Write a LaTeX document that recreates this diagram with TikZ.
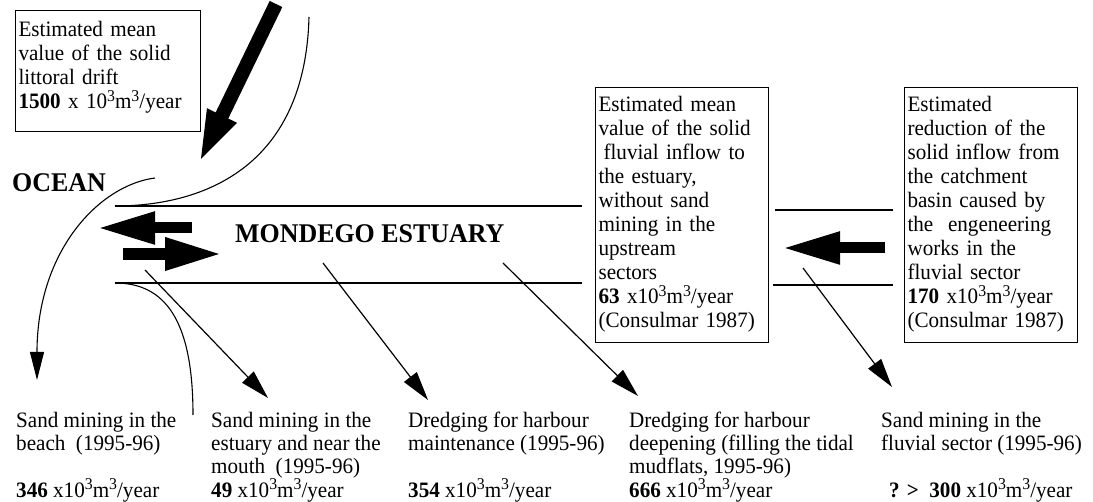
\documentclass[tikz,border=0pt]{standalone}
\usepackage{fontspec}
\setmainfont{Liberation Serif}[FakeStretch=0.96]
\usetikzlibrary{arrows.meta}
\newcommand\hsup[1]{\raisebox{7.8pt}{\fontsize{16.5}{16.5}\selectfont #1}}
\newcommand\bstrut{\rule[-13pt]{0pt}{13pt}}
\begin{document}
\begin{tikzpicture}[x=1pt,y=-1pt,
  infobox/.style={draw, line width=1.1pt, anchor=north west, align=left,
    inner xsep=3pt, inner ysep=0pt, font=\fontsize{22}{24}\selectfont},
  lbl/.style={anchor=north west, align=left, inner sep=0pt,
    font=\fontsize{22}{23}\selectfont},
  bigtitle/.style={anchor=base west, inner sep=0pt,
    font=\fontsize{27}{30}\selectfont\bfseries},
  bank/.style={line width=1.3pt},
  coast/.style={line width=1.1pt},
  flow/.style={line width=1.2pt, -{Triangle[length=29pt,width=16pt]}},
  fat/.style={line width=#1, -{Triangle[length=58pt,width=30pt]}},
]
\useasboundingbox (0,0) rectangle (1093,502);

% boxes
\node[infobox, text width=179pt, minimum height=121pt] (drift) at (15,10)
  {\strut Estimated mean\\value of the solid\\littoral drift\\
   \textbf{1500} x 10\hsup{3}m\hsup{3}/year\bstrut};
\node[infobox, text width=167pt, minimum height=255pt] (fluvial) at (595,87)
  {\strut Estimated mean\\value of the solid\\\hspace*{5pt}fluvial inflow to\\the estuary,\\
   without sand\\mining in the\\upstream\\sectors\\
   \textbf{63} x10\hsup{3}m\hsup{3}/year\\(Consulmar 1987)\strut};
\node[infobox, text width=167pt, minimum height=255pt] (reduction) at (904,87)
  {\strut Estimated\\reduction of the\\solid inflow from\\the catchment\\
   basin caused by\\the\ \ engeneering\\works in the\\fluvial sector\\
   \textbf{170} x10\hsup{3}m\hsup{3}/year\\(Consulmar 1987)\strut};

% titles
\node[bigtitle] (ocean) at (12,192) {OCEAN};
\node[bigtitle] (estuary) at (235,243) {MONDEGO ESTUARY};

% banks of the estuary
\coordinate (tl) at (115,206);
\coordinate (bl) at (115,283);
\draw[bank] (tl) -- (582,206);
\draw[bank] (bl) -- (582,283);
\draw[bank] (fluvial.east |- 0,210) ++(6,0) -- (893,210);
\draw[bank] (fluvial.east |- 0,285) ++(4,0) -- (893,285);

% coast lines
\draw[coast] (309,17) .. controls (305,170) and (200,206) .. (tl);
\draw[coast] (bl) .. controls (165,283) and (193,320) .. (193,415);
\draw[coast, -{Triangle[length=28pt,width=14pt]}]
  (155,178) .. controls (100,185) and (37,250) .. (37,380);

% fat arrows
\draw[line width=14pt, -{Triangle[length=55pt,width=28pt]}] (276,4) -- (198,165);
\draw[fat=11pt] (192,228) -- (97,228);
\draw[fat=12pt] (123,254) -- (223,254);
\draw[fat=11pt] (885,248) -- (782,248);

% bottom labels
\node[lbl] (beach) at (16,410.9)
  {\strut Sand mining in the\\beach\ \ (1995-96)\\[23pt]
   \textbf{346} x10\hsup{3}m\hsup{3}/year};
\node[lbl] (mouth) at (211,410.9)
  {\strut Sand mining in the\\estuary and near the\\mouth\ \ (1995-96)\\
   \textbf{49} x10\hsup{3}m\hsup{3}/year};
\node[lbl] (maint) at (408,410.9)
  {\strut Dredging for harbour\\maintenance (1995-96)\\[23pt]
   \textbf{354} x10\hsup{3}m\hsup{3}/year};
\node[lbl] (deep) at (629,410.9)
  {\strut Dredging for harbour\\deepening (filling the tidal\\mudflats, 1995-96)\\
   \textbf{666} x10\hsup{3}m\hsup{3}/year};
\node[lbl] (fsect) at (881,410.9)
  {\strut Sand mining in the\\fluvial sector (1995-96)\\[23pt]
   \hspace*{8pt}\textbf{? >\ \ 300} x10\hsup{3}m\hsup{3}/year};

% thin flow arrows
\coordinate (s1) at (145,270); \coordinate (e1) at (268,398);
\coordinate (s2) at (323,263); \coordinate (e2) at (428,400);
\coordinate (s3) at (503,263); \coordinate (e3) at (638,396);
\coordinate (s4) at (803,268); \coordinate (e4) at (892,387);
\draw[flow] (s1) -- (e1);
\draw[flow] (s2) -- (e2);
\draw[flow] (s3) -- (e3);
\draw[flow] (s4) -- (e4);
\end{tikzpicture}
\end{document}
